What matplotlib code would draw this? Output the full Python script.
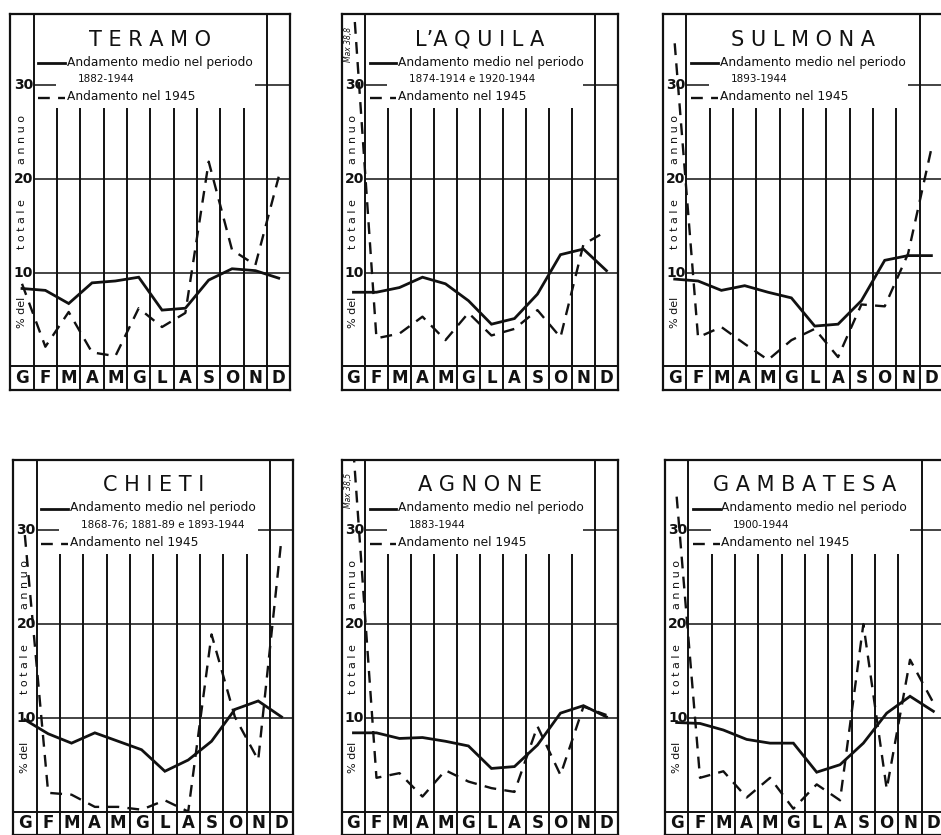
import matplotlib.pyplot as plt

# mesi (gennaio ... dicembre)
mesi = ['G', 'F', 'M', 'A', 'M', 'G', 'L', 'A', 'S', 'O', 'N', 'D']

# % del totale annuo - andamento medio e andamento nel 1945
teramo_medio = [8.3, 8.1, 6.7, 8.9, 9.1, 9.5, 6.0, 6.2, 9.2, 10.4, 10.2, 9.4]
teramo_1945 = [8.8, 2.1, 5.8, 1.5, 1.1, 6.2, 4.2, 5.7, 21.8, 12.4, 10.8, 20.2]

laquila_medio = [7.9, 7.9, 8.4, 9.5, 8.8, 7.0, 4.5, 5.1, 7.7, 11.9, 12.5, 10.2]
laquila_1945 = [38.8, 3.0, 3.5, 5.3, 2.8, 5.7, 3.3, 4.0, 6.0, 3.1, 13.0, 14.4]

sulmona_medio = [9.3, 9.1, 8.1, 8.6, 7.9, 7.3, 4.3, 4.5, 7.0, 11.3, 11.8, 11.8]
sulmona_1945 = [34.4, 3.1, 4.2, 2.4, 0.7, 2.8, 4.0, 1.0, 6.6, 6.4, 12.0, 23.2]

chieti_medio = [9.8, 8.3, 7.3, 8.4, 7.5, 6.6, 4.3, 5.5, 7.5, 10.9, 11.8, 10.1]
chieti_1945 = [29.5, 2.0, 1.8, 0.5, 0.5, 0.2, 1.2, 0.0, 18.9, 10.1, 5.5, 29.2]

agnone_medio = [8.4, 8.4, 7.8, 7.9, 7.5, 7.0, 4.6, 4.8, 7.1, 10.5, 11.3, 10.1]
agnone_1945 = [38.5, 3.6, 4.1, 1.6, 4.4, 3.2, 2.5, 2.1, 9.1, 3.9, 11.2, 10.3]

gambatesa_medio = [9.5, 9.4, 8.7, 7.7, 7.3, 7.3, 4.2, 5.0, 7.3, 10.5, 12.3, 10.7]
gambatesa_1945 = [33.6, 3.6, 4.3, 1.5, 3.6, 0.3, 2.9, 1.2, 20.0, 2.4, 16.2, 11.6]

stazioni = [
    ('T E R A M O', '1882-1944', teramo_medio, teramo_1945, None),
    ('L\u2019A Q U I L A', '1874-1914 e 1920-1944', laquila_medio, laquila_1945, 'Max 38,8'),
    ('S U L M O N A', '1893-1944', sulmona_medio, sulmona_1945, None),
    ('C H I E T I', '1868-76; 1881-89 e 1893-1944', chieti_medio, chieti_1945, None),
    ('A G N O N E', '1883-1944', agnone_medio, agnone_1945, 'Max 38,5'),
    ('G A M B A T E S A', '1900-1944', gambatesa_medio, gambatesa_1945, None),
]

# posizione dei riquadri (frazione della figura)
riquadri = [
    [0.011, 0.533, 0.2976, 0.450],
    [0.3634, 0.533, 0.2933, 0.450],
    [0.7046, 0.533, 0.2976, 0.450],
    [0.014, 0.000, 0.2976, 0.449],
    [0.3634, 0.000, 0.2933, 0.449],
    [0.7067, 0.000, 0.2976, 0.449],
]

INK = '#111111'


def disegna(ax, titolo, periodo, medio, anno, nota):
    x = list(range(len(mesi)))
    ax.set_xlim(-0.5, 11.5)
    ax.set_ylim(-2.5, 37.5)
    ax.set_xticks([])
    ax.set_yticks([])
    for s in ax.spines.values():
        s.set_linewidth(1.6)
        s.set_color(INK)

    # griglia disegnata a mano
    ax.vlines([0.5, 10.5], -2.5, 37.5, color=INK, lw=1.4)
    ax.vlines([k + 0.5 for k in range(1, 10)], -2.5, 27.5, color=INK, lw=1.4)
    ax.hlines(0, -0.5, 11.5, color=INK, lw=1.4)
    ax.hlines([10, 20], 0.5, 11.5, color=INK, lw=1.1)
    ax.hlines(30, 0.5, 1.45, color=INK, lw=1.1)
    ax.hlines(30, 10.0, 11.5, color=INK, lw=1.1)

    for k, m in enumerate(mesi):
        ax.text(k, -1.25, m, ha='center', va='center', fontsize=12,
                fontweight='bold', color=INK)
    for v in (10, 20, 30):
        ax.text(0.47, v, str(v), ha='right', va='center', fontsize=10,
                fontweight='bold', color=INK)
    ax.text(0.0, 5.8, '% del', rotation=90, ha='center', va='center',
            fontsize=8, color=INK)
    ax.text(0.0, 15.2, 't o t a l e', rotation=90, ha='center', va='center',
            fontsize=8, color=INK)
    ax.text(0.0, 24.2, 'a n n u o', rotation=90, ha='center', va='center',
            fontsize=8, color=INK)
    if nota:
        ax.text(-0.2, 34.3, nota, rotation=90, ha='center', va='center',
                fontsize=5.5, style='italic', color=INK)

    # curve
    ax.plot(x, medio, color=INK, lw=2.0, solid_joinstyle='miter')
    ax.plot(x, anno, color=INK, lw=1.7, linestyle=(0, (5, 3.5)))

    # titolo e legenda
    ax.text(5.5, 34.8, titolo, ha='center', va='center', fontsize=15, color=INK)
    ax.plot([0.7, 1.85], [32.3, 32.3], color=INK, lw=2.0)
    ax.text(1.92, 32.4, 'Andamento medio nel periodo', ha='left', va='center',
            fontsize=8.8, color=INK)
    ax.text(2.4, 30.6, periodo, ha='left', va='center', fontsize=7.5, color=INK)
    ax.plot([0.7, 1.85], [28.6, 28.6], color=INK, lw=1.7, linestyle=(0, (5, 3.5)))
    ax.text(1.92, 28.7, 'Andamento nel 1945', ha='left', va='center',
            fontsize=8.8, color=INK)


fig = plt.figure(figsize=(9.41, 8.35), dpi=100)
for (titolo, periodo, medio, anno, nota), pos in zip(stazioni, riquadri):
    ax = fig.add_axes(pos)
    disegna(ax, titolo, periodo, medio, anno, nota)

fig.savefig('out.png', dpi=100, facecolor='white')
